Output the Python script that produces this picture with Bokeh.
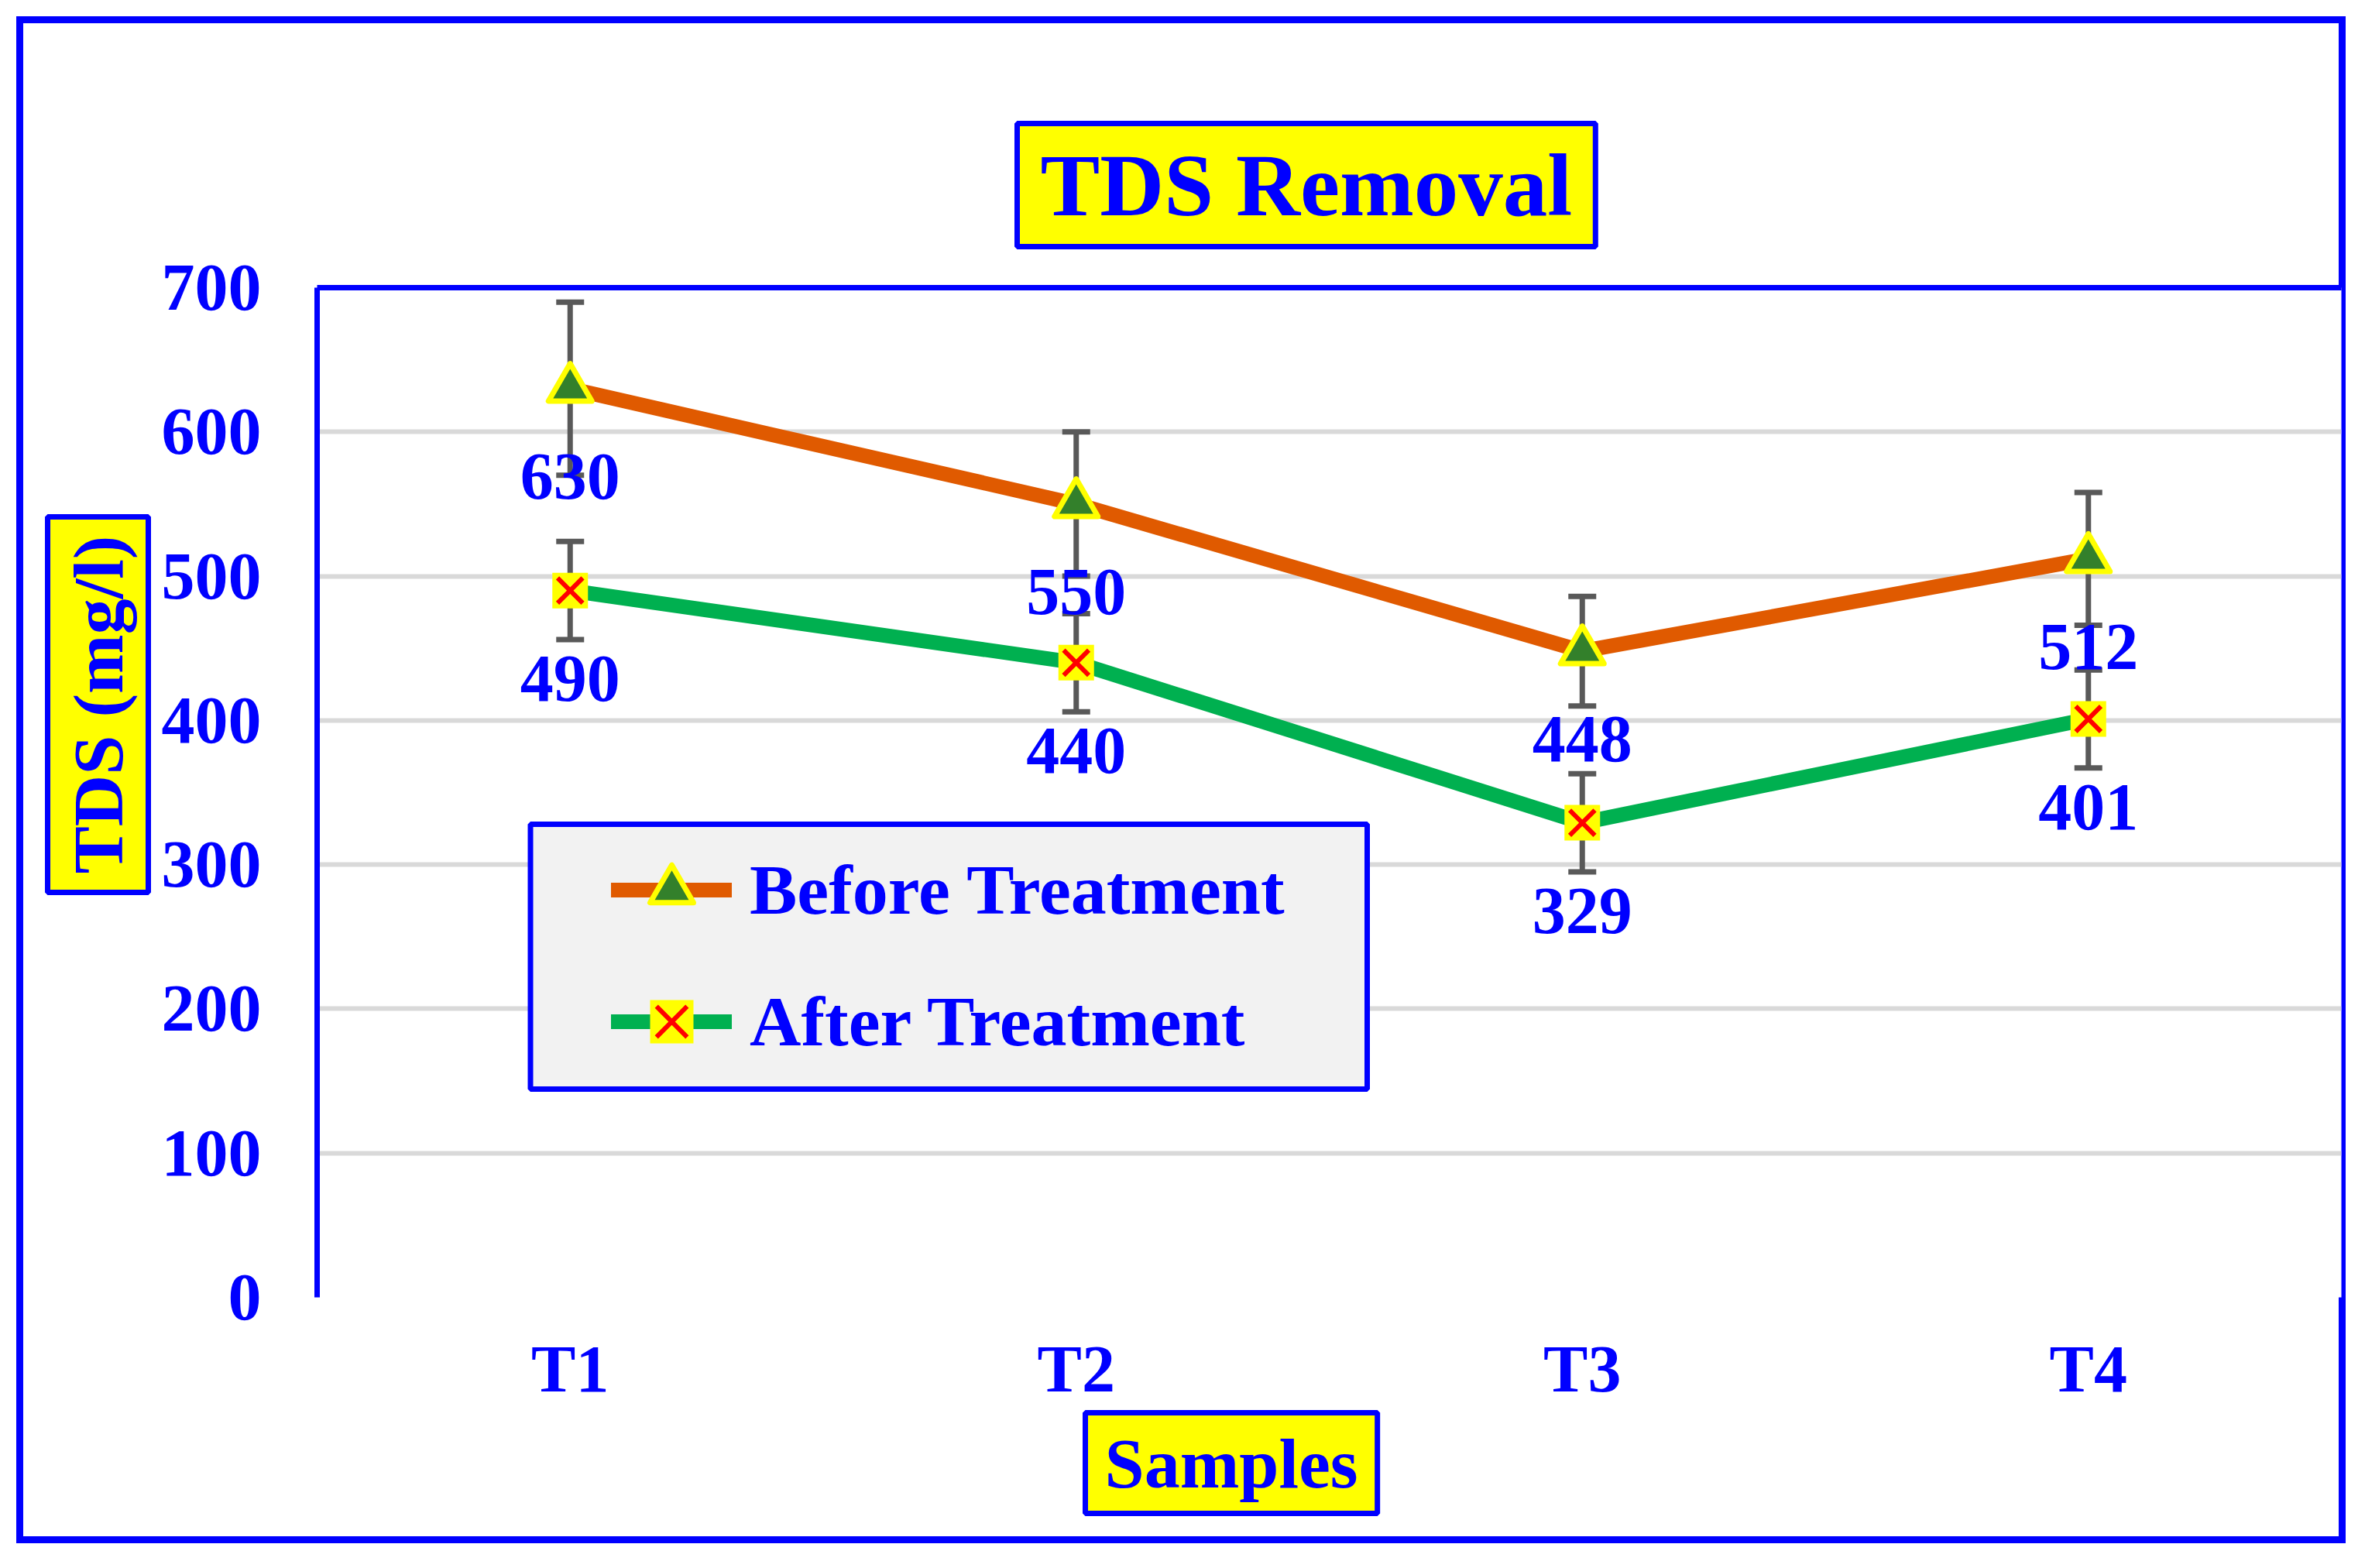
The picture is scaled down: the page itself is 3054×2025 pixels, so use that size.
from bokeh.plotting import figure
from bokeh.models import (Range1d, FactorRange, SingleIntervalTicker, CategoricalAxis, LabelSet, Title,
                          ColumnDataSource, Legend, LegendItem, BoxAnnotation)
from bokeh.core.properties import value
from bokeh.embed import file_html
from bokeh.resources import INLINE

# ---------------- data ----------------
samples = ["T1", "T2", "T3", "T4"]
before_treatment = [630, 550, 448, 512]
after_treatment = [490, 440, 329, 401]
before_error = [60, 50, 38, 46]
after_error = [34, 34, 34, 34]
y_tick_step = 100
y_max = 700
series_names = ["Before Treatment", "After Treatment"]
title_text = "TDS Removal"
x_title = "Samples"
y_title = "TDS (mg/l)"

# ---------------- style ----------------
BLUE = "#0000FF"
YELLOW = "#FFFF00"
ORANGE = "#E05A00"
GREEN = "#00B050"
DKGREEN = "#33802B"
RED = "#FF0000"
GRAY = "#595959"
GRID = "#D9D9D9"
LEGBG = "#F2F2F2"
FONT = "Liberation Serif"

W, H = 3050, 2014
BL, BR, BT, BB = 409, 27, 371, 339
CAT_W = (W - BL - BR) / len(samples)
PPU = (H - BT - BB) / y_max


def px_x(fx):
    return (fx - BL) / CAT_W


def px_y(fy):
    return (H - BB - fy) / PPU


p = figure(width=W, height=H, x_range=FactorRange(factors=samples), y_range=Range1d(0, y_max),
           output_backend="svg", toolbar_location=None,
           min_border_left=BL, min_border_right=BR, min_border_top=BT, min_border_bottom=BB,
           background_fill_color="white", border_fill_color=None)
# outer chart-area border (inset 21px, 9px wide)
p.styles = {"box-shadow": "inset 0 0 0 21px white, inset 0 0 0 30px #0000FF",
            "outline": "9px solid #0000FF", "outline-offset": "-30px"}
p.outline_line_color = None
p.xgrid.visible = False

ticker = SingleIntervalTicker(interval=y_tick_step, num_minor_ticks=0)
p.yaxis.ticker = ticker
p.ygrid.ticker = ticker
p.ygrid.grid_line_color = GRID
p.ygrid.grid_line_width = 6

p.yaxis.axis_line_color = BLUE
p.yaxis.axis_line_width = 7
p.yaxis.major_tick_line_color = None
p.yaxis.minor_tick_line_color = None
p.yaxis.major_tick_out = 0
p.yaxis.major_label_standoff = 72
p.yaxis.major_label_text_font = FONT
p.yaxis.major_label_text_font_style = "bold"
p.yaxis.major_label_text_font_size = "86px"
p.yaxis.major_label_text_color = BLUE

p.xaxis.axis_line_color = None
p.xaxis.major_tick_line_color = None
p.xaxis.minor_tick_line_color = None
p.xaxis.major_tick_out = 0
p.xaxis.major_label_standoff = 44
p.xaxis.major_label_text_font = FONT
p.xaxis.major_label_text_font_style = "bold"
p.xaxis.major_label_text_font_size = "86px"
p.xaxis.major_label_text_color = BLUE

top_axis = CategoricalAxis(axis_line_color=BLUE, axis_line_width=7, major_tick_line_color=None,
                           minor_tick_line_color=None, major_label_text_font_size="0px",
                           major_label_text_color=None, major_tick_out=0)
p.add_layout(top_axis, "above")

# ---------------- sources ----------------
src_b = ColumnDataSource(dict(
    x=samples, y=before_treatment,
    lo=[v - e for v, e in zip(before_treatment, before_error)],
    hi=[v + e for v, e in zip(before_treatment, before_error)]))
src_a = ColumnDataSource(dict(
    x=samples, y=after_treatment,
    lo=[v - e for v, e in zip(after_treatment, after_error)],
    hi=[v + e for v, e in zip(after_treatment, after_error)]))

# lines
line_b = p.line("x", "y", source=src_b, line_color=ORANGE, line_width=19, line_cap="round", line_join="round")
line_a = p.line("x", "y", source=src_a, line_color=GREEN, line_width=19, line_cap="round", line_join="round")

# error bars
for src in (src_b, src_a):
    p.segment(x0="x", y0="lo", x1="x", y1="hi", source=src, line_color=GRAY, line_width=7)
    p.scatter("x", "lo", source=src, marker="dash", size=36, line_color=GRAY, line_width=7)
    p.scatter("x", "hi", source=src, marker="dash", size=36, line_color=GRAY, line_width=7)

# markers
tri = p.scatter("x", "y", source=src_b, marker="triangle", size=56, fill_color=DKGREEN,
                line_color=YELLOW, line_width=7, line_join="round")
sq = p.scatter("x", "y", source=src_a, marker="square", size=46, fill_color=YELLOW, line_color=None)
xx = p.scatter("x", "y", source=src_a, marker="x", size=46, line_color=RED, line_width=6)

# data labels
src_lab = ColumnDataSource(dict(x=samples + samples, y=before_treatment + after_treatment,
                                t=[str(v) for v in before_treatment + after_treatment]))
labels = LabelSet(x="x", y="y", text="t", source=src_lab, y_offset=-114, text_align="center",
                  text_baseline="middle", text_font=value(FONT), text_font_style="bold",
                  text_font_size="86px", text_color=BLUE)
p.add_layout(labels)

# legend box + legend
leg_box = BoxAnnotation(left=px_x(684.5), right=px_x(1765), top=px_y(1064), bottom=px_y(1406),
                        fill_color=LEGBG, fill_alpha=1, line_color=BLUE, line_alpha=1, line_width=7)
p.add_layout(leg_box)
legend = Legend(items=[LegendItem(label=series_names[0], renderers=[line_b, tri]),
                       LegendItem(label=series_names[1], renderers=[line_a, sq, xx])],
                location=(380, 286), orientation="vertical", padding=0, spacing=30,
                glyph_width=156, glyph_height=140, label_height=140, label_standoff=23,
                label_text_font=FONT, label_text_font_style="bold", label_text_font_size="92px",
                label_text_color=BLUE, background_fill_alpha=0, border_line_color=None, margin=0)
p.add_layout(legend)

# chart title in a yellow box
p.title.text = title_text
p.title.align = "left"
p.title.offset = 904
p.title.vertical_align = "bottom"
p.title.standoff = 106
p.title.text_font = FONT
p.title.text_font_style = "bold"
p.title.text_font_size = "115px"
p.title.text_color = BLUE
p.title.background_fill_color = YELLOW
p.title.border_line_color = BLUE
p.title.border_line_width = 7
p.title.padding = (30, 16)

xt = Title(text=x_title, align="left", offset=992, vertical_align="top", standoff=12,
           text_font=FONT, text_font_style="bold", text_font_size="92px", text_color=BLUE,
           background_fill_color=YELLOW, border_line_color=BLUE, border_line_width=7, padding=(25, 14))
p.add_layout(xt, "below")

yt = Title(text=y_title, align="left", offset=523, vertical_align="bottom", standoff=28,
           text_font=FONT, text_font_style="bold", text_font_size="92px", text_color=BLUE,
           background_fill_color=YELLOW, border_line_color=BLUE, border_line_width=7, padding=(24, 14))
p.add_layout(yt, "left")

open("out.html", "w").write(file_html(p, INLINE))
